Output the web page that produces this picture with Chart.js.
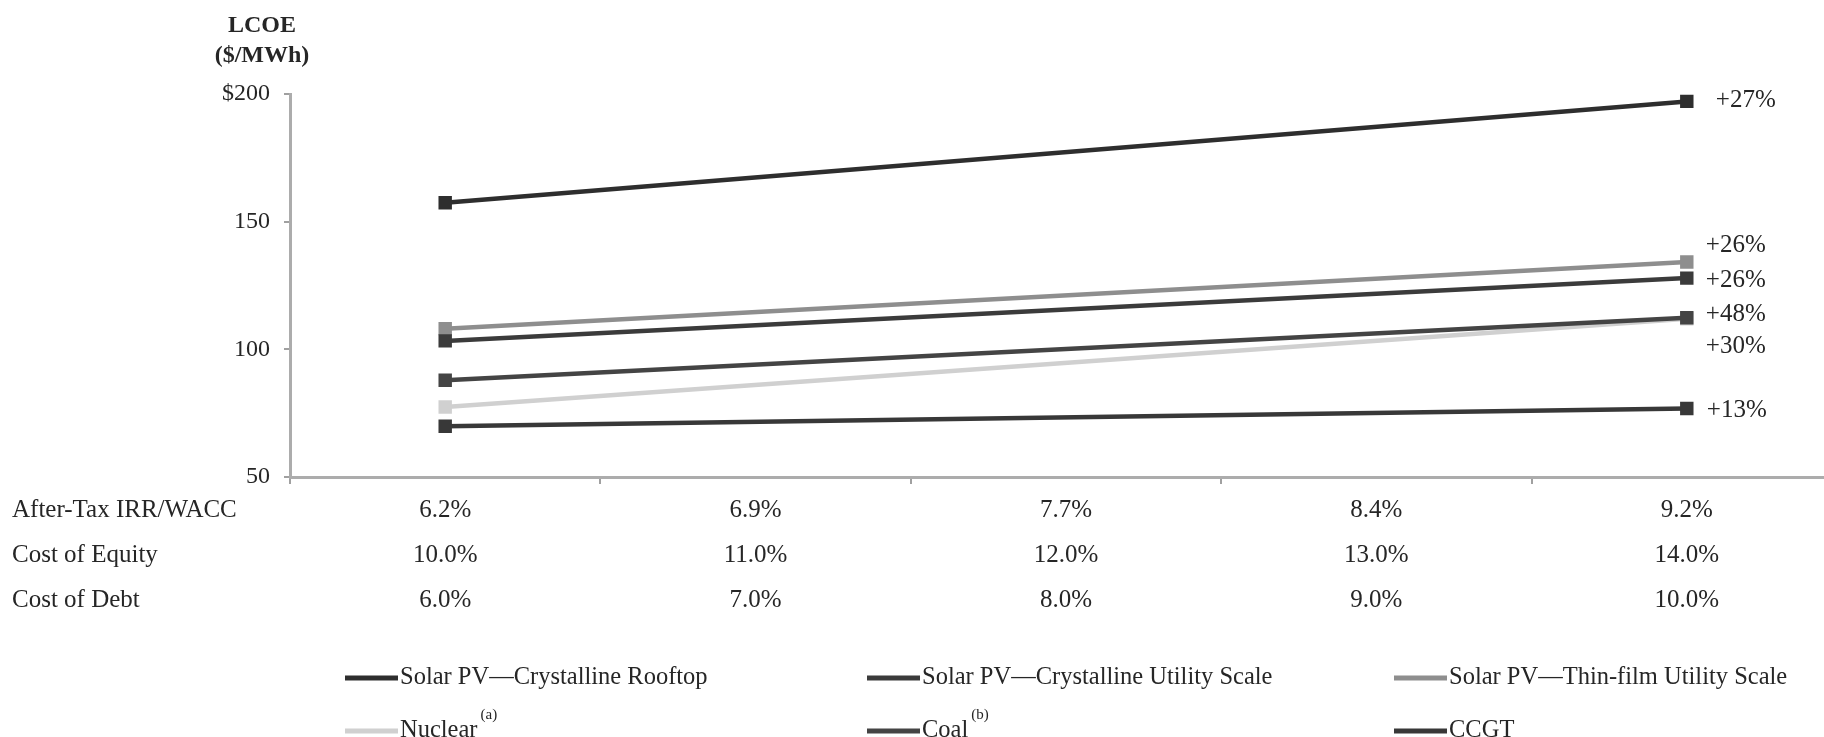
<!DOCTYPE html>
<html>
<head>
<meta charset="utf-8">
<script src="https://cdn.jsdelivr.net/npm/chart.js@4/dist/chart.umd.min.js"></script>
<style>
  html, body { margin: 0; padding: 0; background: #fff; overflow: hidden; }
  #wrap { position: relative; width: 1842px; height: 737px; }
</style>
</head>
<body>
<div id="wrap"><canvas id="c" width="1842" height="737"></canvas></div>
<script>
// Discount-rate scenarios along the x axis
const irrWacc      = ['6.2%', '6.9%', '7.7%', '8.4%', '9.2%'];
const costOfEquity = ['10.0%', '11.0%', '12.0%', '13.0%', '14.0%'];
const costOfDebt   = ['6.0%', '7.0%', '8.0%', '9.0%', '10.0%'];
const rowHeaders   = ['After-Tax IRR/WACC', 'Cost of Equity', 'Cost of Debt'];

// LCOE ($/MWh) at the lowest and highest cost of capital
const solarRooftop     = [157.4, null, null, null, 197.1];
const solarCrystUtil   = [103.3, null, null, null, 127.9];
const solarThinFilm    = [108.1, null, null, null, 134.2];
const nuclear          = [77.4,  null, null, null, 112.0];
const coal             = [87.9,  null, null, null, 112.4];
const ccgt             = [69.9,  null, null, null, 76.8];

const seriesNames = [
  'Solar PV\u2014Crystalline Rooftop',
  'Solar PV\u2014Crystalline Utility Scale',
  'Solar PV\u2014Thin-film Utility Scale',
  'Nuclear',
  'Coal',
  'CCGT'
];
const seriesNotes  = ['', '', '', '(a)', '(b)', ''];
const changeLabels = ['+27%', '+26%', '+26%', '+48%', '+30%', '+13%'];
const yTicks = [50, 100, 150, 200];

// styling
const seriesColors = ['#2e2e2e', '#3b3b3b', '#8e8e8e', '#d0d0d0', '#444444', '#383838'];
const labelNudgeY  = [-1, 2, -17, -4, 29, 2];
const labelNudgeX  = [29, 19, 19, 19, 19, 20];
const FONT = '"Liberation Serif", "Times New Roman", serif';
const TEXT = '#262626';

const seriesData = [solarRooftop, solarCrystUtil, solarThinFilm, nuclear, coal, ccgt];

const datasets = seriesData.map((d, i) => ({
  label: seriesNames[i],
  data: d,
  borderColor: seriesColors[i],
  backgroundColor: seriesColors[i],
  pointBackgroundColor: seriesColors[i],
  pointBorderWidth: 0,
  pointStyle: 'rect',
  pointRadius: 9.5,
  borderWidth: 4.5,
  tension: 0,
  spanGaps: true,
  order: i === 3 ? 1 : 0
}));

const annotations = {
  id: 'annotations',
  afterDraw(chart) {
    const ctx = chart.ctx;
    const xs = chart.scales.x;
    const area = chart.chartArea;
    ctx.save();

    // y-axis title
    ctx.fillStyle = TEXT;
    ctx.textAlign = 'center';
    ctx.textBaseline = 'middle';
    ctx.font = 'bold 24px ' + FONT;
    ctx.fillText('LCOE', 262, 26);
    ctx.fillText('($/MWh)', 262, 56);

    // table rows under the x axis
    const rows = [irrWacc, costOfEquity, costOfDebt];
    ctx.font = '25px ' + FONT;
    rows.forEach((row, r) => {
      const y = area.bottom + 33 + r * 45;
      ctx.textAlign = 'left';
      ctx.fillText(rowHeaders[r], 12, y);
      ctx.textAlign = 'center';
      row.forEach((t, i) => ctx.fillText(t, xs.getPixelForTick(i), y));
    });

    // percentage change at the right-hand end of each line
    ctx.textAlign = 'left';
    chart.data.datasets.forEach((ds, i) => {
      const meta = chart.getDatasetMeta(i);
      const pt = meta.data[meta.data.length - 1];
      ctx.fillText(changeLabels[i], pt.x + labelNudgeX[i], pt.y + labelNudgeY[i]);
    });

    // legend: three columns, two rows
    const colX = [345, 867, 1394];
    const rowY = [678, 731];
    chart.data.datasets.forEach((ds, i) => {
      const x = colX[i % 3];
      const y = rowY[Math.floor(i / 3)];
      ctx.strokeStyle = ds.borderColor;
      ctx.lineWidth = 5;
      ctx.beginPath();
      ctx.moveTo(x, y);
      ctx.lineTo(x + 53, y);
      ctx.stroke();
      ctx.font = '24.5px ' + FONT;
      ctx.fillStyle = TEXT;
      ctx.textAlign = 'left';
      ctx.fillText(ds.label, x + 55, y);
      if (seriesNotes[i]) {
        const w = ctx.measureText(ds.label).width;
        ctx.font = '15px ' + FONT;
        ctx.fillText(seriesNotes[i], x + 55 + w + 3, y - 16);
      }
    });
    ctx.restore();
  }
};

new Chart(document.getElementById('c'), {
  type: 'line',
  data: { labels: irrWacc, datasets },
  options: {
    responsive: false,
    animation: false,
    devicePixelRatio: 1,
    layout: { autoPadding: false, padding: { top: 94, left: 0, right: 0, bottom: 0 } },
    plugins: { legend: { display: false }, tooltip: { enabled: false } },
    scales: {
      x: {
        type: 'category',
        offset: true,
        grid: { offset: true, drawOnChartArea: false, drawTicks: true, tickLength: 7, color: '#a0a0a0', lineWidth: 2 },
        border: { display: true, color: '#acacac', width: 3 },
        ticks: { display: false },
        afterFit(s) { s.height = 260; }
      },
      y: {
        min: 50,
        max: 200,
        afterBuildTicks(s) { s.ticks = yTicks.map(v => ({ value: v })); },
        grid: { drawOnChartArea: false, drawTicks: true, tickLength: 6, color: '#a0a0a0', lineWidth: 2 },
        border: { display: true, color: '#acacac', width: 3 },
        ticks: {
          font: { family: FONT, size: 24 },
          color: TEXT,
          padding: 14,
          callback: v => (v === 200 ? '$200' : String(v))
        },
        afterFit(s) { s.width = 290; }
      }
    }
  },
  plugins: [annotations]
});
</script>
</body>
</html>
